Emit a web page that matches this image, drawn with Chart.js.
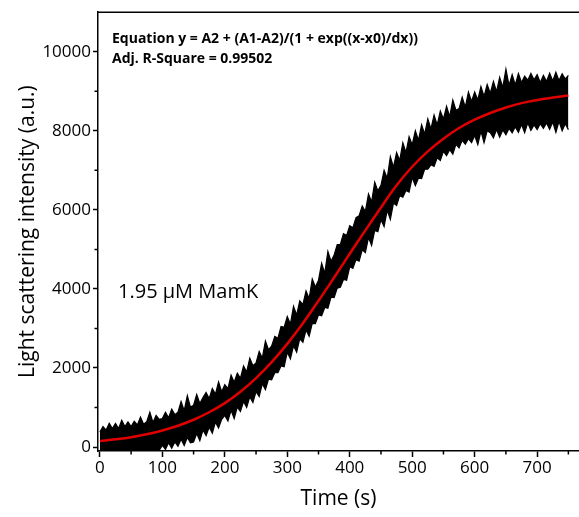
<!DOCTYPE html>
<html>
<head>
<meta charset="utf-8">
<script src="https://cdn.jsdelivr.net/npm/chart.js@4"></script>
<style>
  html, body { margin: 0; padding: 0; background: #fff; }
  #wrap { position: relative; width: 579px; height: 517px; }
  .note { position: absolute; color: #000; font-family: "Open Sans", sans-serif; white-space: nowrap; }
  .eq { font-weight: bold; font-size: 14px; left: 112px; }
  .conc { font-size: 20px; left: 118px; top: 277px; }
</style>
</head>
<body>
<div id="wrap">
  <canvas id="kinetics" width="579" height="517"></canvas>
  <div class="note eq" style="top:28px">Equation y = A2 + (A1-A2)/(1 + exp((x-x0)/dx))</div>
  <div class="note eq" style="top:48px">Adj. R-Square = 0.99502</div>
  <div class="note conc">1.95 μM MamK</div>
</div>
<script>
// --- datos ---
const timeRaw = [
  0, 5, 10, 15, 20, 25, 30, 35, 40, 45, 50, 55, 60, 65, 70, 75, 80, 85, 90, 95,
  100, 105, 110, 115, 120, 125, 130, 135, 140, 145, 150, 155, 160, 165, 170, 175, 180, 185, 190, 195,
  200, 205, 210, 215, 220, 225, 230, 235, 240, 245, 250, 255, 260, 265, 270, 275, 280, 285, 290, 295,
  300, 305, 310, 315, 320, 325, 330, 335, 340, 345, 350, 355, 360, 365, 370, 375, 380, 385, 390, 395,
  400, 405, 410, 415, 420, 425, 430, 435, 440, 445, 450, 455, 460, 465, 470, 475, 480, 485, 490, 495,
  500, 505, 510, 515, 520, 525, 530, 535, 540, 545, 550, 555, 560, 565, 570, 575, 580, 585, 590, 595,
  600, 605, 610, 615, 620, 625, 630, 635, 640, 645, 650, 655, 660, 665, 670, 675, 680, 685, 690, 695,
  700, 705, 710, 715, 720, 725, 730, 735, 740, 745, 750
];
// borde superior e inferior de la banda negra (datos con ruido)
const rawUpper = [
  380, 520, 430, 600, 470, 600, 470, 680, 520, 640, 520, 650, 560, 760, 580, 640, 880, 620, 800, 700,
  720, 880, 740, 960, 820, 880, 1150, 920, 1300, 1010, 1060, 1330, 1100, 1250, 1380, 1230, 1480, 1340, 1650, 1400,
  1580, 1480, 1820, 1640, 1870, 1740, 2050, 1900, 2250, 2060, 2130, 2420, 2250, 2680, 2460, 2560, 2800, 2750, 3050, 3030,
  3300, 3110, 3560, 3340, 3700, 3600, 3950, 3760, 4250, 4050, 4220, 4650, 4400, 4950, 4700, 4860, 5120, 5130, 5400, 5350,
  5600, 5550, 5800, 5850, 6100, 5960, 6400, 6200, 6700, 6480, 6620, 7000, 6800, 7350, 7080, 7450, 7250, 7700, 7450, 7850,
  7650, 8000, 7760, 8150, 7920, 8300, 8050, 8400, 8150, 8500, 8300, 8620, 8360, 8780, 8520, 8560, 8850, 8600, 8980, 8740,
  8980, 8780, 9120, 8870, 9170, 8950, 9250, 8990, 9350, 9100, 9560, 9150, 9420, 9160, 9450, 9220, 9380, 9280, 9450, 9290,
  9420, 9220, 9400, 9250, 9460, 9260, 9480, 9270, 9440, 9310, 9400
];
const rawLower = [
  -230, -140, -250, -170, -270, -140, -200, -140, -210, -140, -170, -110, -170, -100, -150, -130, -140, -110, -120, -80,
  40, -60, 110, -30, 130, 20, 200, 40, 240, 110, 130, 340, 160, 430, 290, 500, 350, 630, 480, 700,
  800, 660, 930, 720, 1010, 900, 1150, 1000, 1270, 1130, 1400, 1280, 1600, 1450, 1720, 1700, 1880, 1880, 2050, 2030,
  2400, 2230, 2560, 2400, 2740, 2650, 2960, 2800, 3130, 3120, 3340, 3320, 3530, 3510, 3790, 3780, 4020, 4040, 4240, 4220,
  4560, 4520, 4740, 4700, 4990, 4920, 5300, 5100, 5480, 5450, 5750, 5580, 5990, 5760, 6170, 6110, 6360, 6320, 6490, 6450,
  6820, 6610, 6800, 6790, 7030, 7030, 7140, 7100, 7320, 7250, 7480, 7370, 7520, 7410, 7660, 7570, 7760, 7660, 7800, 7700,
  7880, 7650, 7990, 7700, 8000, 7950, 7820, 8030, 7840, 8020, 7900, 8060, 7950, 8100, 7960, 8160, 7950, 8200, 8010, 8150,
  8030, 8180, 8060, 8200, 8040, 8220, 7960, 8240, 8000, 8180, 8030
];
// curva de ajuste (roja)
const timeFit = [0, 25, 50, 75, 100, 125, 150, 175, 200, 225, 250, 275, 300, 325, 350, 375,
  400, 425, 450, 475, 500, 525, 550, 575, 600, 625, 650, 675, 700, 725, 750];
const fitValues = [150, 195, 250, 325, 420, 540, 690, 880, 1110, 1400, 1745, 2150, 2610, 3130, 3700, 4290,
  4890, 5480, 6060, 6620, 7090, 7480, 7800, 8070, 8280, 8450, 8590, 8700, 8780, 8840, 8890];
const xMajorTicks = [0, 100, 200, 300, 400, 500, 600, 700];
const xMinorTicks = [50, 150, 250, 350, 450, 550, 650, 750];
const yMajorTicks = [0, 2000, 4000, 6000, 8000, 10000];
const yMinorTicks = [1000, 3000, 5000, 7000, 9000];

const toPoints = (xs, ys) => xs.map((x, i) => ({ x: x, y: ys[i] }));

// ticks menores y marco superior
const frameTicks = {
    id: 'frameTicks',
    afterDraw(chart) {
        const { ctx, chartArea, scales } = chart;
        ctx.save();
        ctx.strokeStyle = '#000';
        ctx.lineWidth = 1.5;
        ctx.beginPath();
        ctx.moveTo(chartArea.left, chartArea.top);
        ctx.lineTo(chartArea.right, chartArea.top);
        xMinorTicks.forEach(v => {
            const px = scales.x.getPixelForValue(v);
            ctx.moveTo(px, chartArea.bottom);
            ctx.lineTo(px, chartArea.bottom + 3.5);
        });
        yMinorTicks.forEach(v => {
            const py = scales.y.getPixelForValue(v);
            ctx.moveTo(chartArea.left, py);
            ctx.lineTo(chartArea.left - 3.5, py);
        });
        ctx.stroke();
        ctx.restore();
    }
};

const tickFont = { family: '"Open Sans", sans-serif', size: 17 };
const titleFont = { family: '"Open Sans", sans-serif', size: 21 };

const chart = new Chart(document.getElementById('kinetics'), {
    type: 'line',
    data: {
        datasets: [
            {
                label: 'Fit',
                data: toPoints(timeFit, fitValues),
                borderColor: '#e00000',
                borderWidth: 2.5,
                pointRadius: 0,
                tension: 0.4,
                fill: false
            },
            {
                label: 'Upper',
                data: toPoints(timeRaw, rawUpper),
                borderColor: '#000',
                borderWidth: 1.2,
                pointRadius: 0,
                tension: 0,
                fill: false
            },
            {
                label: 'Lower',
                data: toPoints(timeRaw, rawLower),
                borderColor: '#000',
                backgroundColor: '#000',
                borderWidth: 1.2,
                pointRadius: 0,
                tension: 0,
                fill: '-1'
            }
        ]
    },
    options: {
        responsive: false,
        animation: false,
        devicePixelRatio: 1,
        layout: { padding: { top: 9, right: 0, left: 0, bottom: 0 } },
        plugins: {
            legend: { display: false },
            tooltip: { enabled: false }
        },
        scales: {
            x: {
                type: 'linear',
                min: -3,
                max: 767,
                afterBuildTicks: s => { s.ticks = xMajorTicks.map(v => ({ value: v })); },
                afterFit: s => { s.height = 66; },
                border: { display: true, color: '#000', width: 1.5 },
                grid: { drawOnChartArea: false, color: '#000', tickLength: 6, tickWidth: 1.5 },
                ticks: { color: '#000', font: tickFont, padding: 1, maxRotation: 0, callback: v => String(v) },
                title: { display: true, text: 'Time (s)', color: '#000', font: titleFont, padding: { bottom: 5 } }
            },
            y: {
                min: -100,
                max: 11000,
                afterBuildTicks: s => { s.ticks = yMajorTicks.map(v => ({ value: v })); },
                afterFit: s => { s.width = 98; },
                border: { display: true, color: '#000', width: 1.5 },
                grid: { drawOnChartArea: false, color: '#000', tickLength: 5, tickWidth: 1.5 },
                ticks: { color: '#000', font: tickFont, padding: 2, callback: v => String(v) },
                title: { display: true, text: 'Light scattering intensity (a.u.)', color: '#000', font: titleFont, padding: { top: 15 } }
            }
        }
    },
    plugins: [frameTicks]
});
</script>
</body>
</html>
